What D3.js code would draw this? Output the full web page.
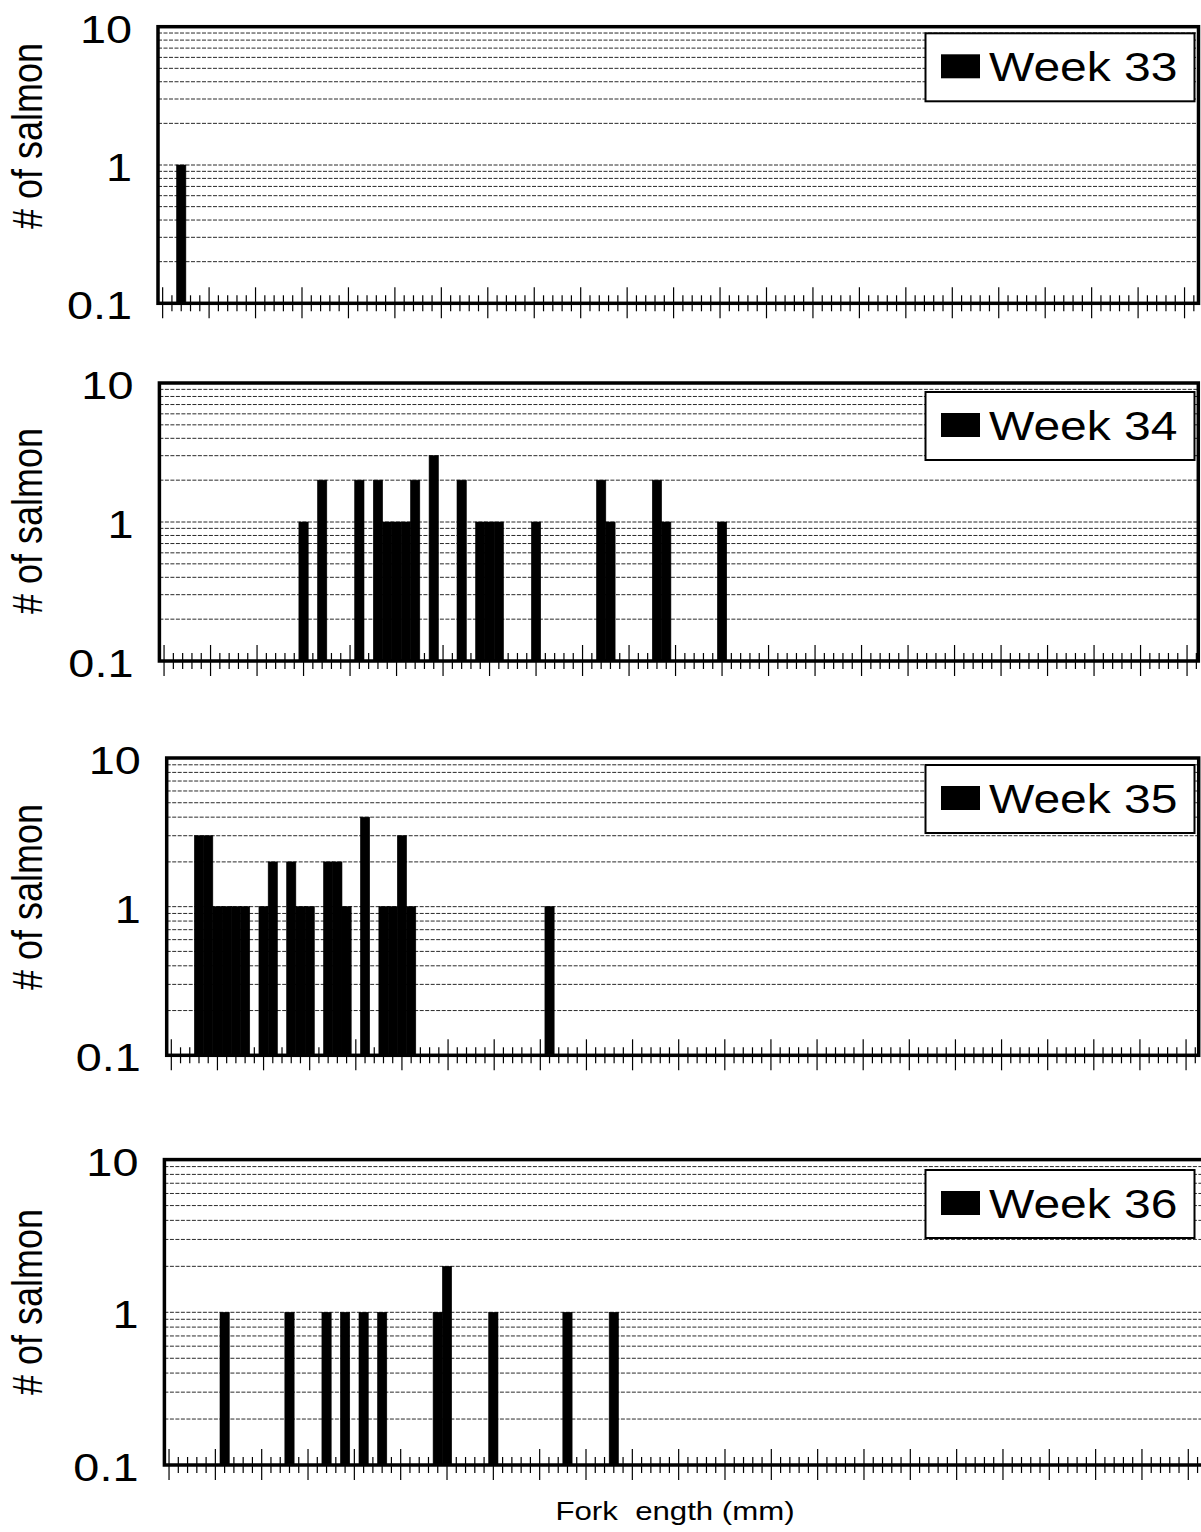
<!DOCTYPE html>
<html>
<head>
<meta charset="utf-8">
<script src="https://cdn.jsdelivr.net/npm/d3@7"></script>
<style>
  body { margin: 0; background: #fff; overflow: hidden; }
  svg { display: block; font-family: "Liberation Sans", Arial, sans-serif; }
</style>
</head>
<body>
<svg width="1201" height="1532"></svg>
<script>
// fork length bins (the axis shows ticks only, no labels)
const lengthBins = d3.range(112);

const weekNames = ["Week 33", "Week 34", "Week 35", "Week 36"];

// [bin index, number of salmon]
const week33 = [[2, 1]];
const week34 = [[15, 1], [17, 2], [21, 2], [23, 2], [24, 1], [25, 1], [26, 1], [27, 2],
                [29, 3], [32, 2], [34, 1], [35, 1], [36, 1], [40, 1], [47, 2], [48, 1],
                [53, 2], [54, 1], [60, 1]];
const week35 = [[3, 3], [4, 3], [5, 1], [6, 1], [7, 1], [8, 1], [10, 1], [11, 2],
                [13, 2], [14, 1], [15, 1], [17, 2], [18, 2], [19, 1], [21, 4], [23, 1],
                [24, 1], [25, 3], [26, 1], [41, 1]];
const week36 = [[6, 1], [13, 1], [17, 1], [19, 1], [21, 1], [23, 1], [29, 1], [30, 2],
                [35, 1], [43, 1], [48, 1]];

const yTickValues = [0.1, 1, 10];
const yTitle = "# of salmon";
const xTitle = "Fork  ength (mm)";

const FONT = '"Liberation Sans", Arial, sans-serif';
// the original picture is stretched sideways, text too
const stretch = 1.2;

// frame of each panel
const frames = [
  { left: 158,   bandW: 9.29,  right: 1198.5, top: 26.7, bottom: 303.3, legendY: 33.3, titleY: 136 },
  { left: 159.4, bandW: 9.3,   right: 1198.3, top: 383,  bottom: 661,   legendY: 392,  titleY: 521 },
  { left: 166.7, bandW: 9.225, right: 1198.7, top: 758,  bottom: 1055.3, legendY: 765, titleY: 897 },
  { left: 164.4, bandW: 9.266, right: 1203,   top: 1159.6, bottom: 1465, legendY: 1170, titleY: 1302 }
];

const svg = d3.select("svg");

function drawPanel(counts, name, f) {
  const g = svg.append("g");

  const x = d3.scaleBand()
      .domain(lengthBins)
      .range([f.left, f.left + lengthBins.length * f.bandW])
      .padding(0);
  const y = d3.scaleLog()
      .domain([0.1, 10])
      .range([f.bottom, f.top]);

  // dashed grid at every log step
  const gridVals = [];
  [0.1, 1].forEach(dec => d3.range(2, 10).forEach(k => gridVals.push(dec * k)));
  gridVals.push(1);
  g.selectAll(".grid")
    .data(gridVals)
    .enter()
    .append("line")
    .attr("x1", f.left)
    .attr("x2", f.right)
    .attr("y1", d => y(d))
    .attr("y2", d => y(d))
    .attr("stroke", "#2a2a2a")
    .attr("stroke-width", 1)
    .attr("stroke-dasharray", "4,1.5");

  // bars
  g.selectAll(".bar")
    .data(counts)
    .enter()
    .append("rect")
    .attr("x", d => x(d[0]))
    .attr("width", x.bandwidth())
    .attr("y", d => y(d[1]))
    .attr("height", d => f.bottom - y(d[1]))
    .attr("fill", "#000")
    .attr("stroke", "#000")
    .attr("stroke-width", 0.6);

  // x ticks, crossing the axis line
  const ax = g.append("g")
    .attr("transform", `translate(0, ${f.bottom})`)
    .call(d3.axisBottom(x).tickFormat("").tickSizeOuter(0));
  ax.select(".domain").remove();
  ax.selectAll(".tick")
    .filter(d => x(d) + x.bandwidth() / 2 > f.right)
    .remove();
  ax.selectAll(".tick line")
    .attr("stroke", "#000")
    .attr("stroke-width", 1.2)
    .attr("y1", d => d % 5 === 0 ? -16 : -8)
    .attr("y2", d => d % 5 === 0 ? 15 : 8);

  // y labels
  const ay = g.append("g")
    .attr("transform", `translate(${f.left}, 0)`)
    .call(d3.axisLeft(y).tickValues(yTickValues).tickSize(0)
          .tickFormat(d => d < 1 ? "0.1" : String(d)));
  ay.attr("font-family", FONT);
  ay.select(".domain").remove();
  ay.selectAll(".tick text")
    .attr("font-size", 39)
    .attr("fill", "#000")
    .attr("x", -26 / stretch)
    .attr("dy", "0.40em")
    .attr("transform", `scale(${stretch},1)`);

  // frame
  g.append("rect")
    .attr("x", f.left)
    .attr("y", f.top)
    .attr("width", f.right - f.left)
    .attr("height", f.bottom - f.top)
    .attr("fill", "none")
    .attr("stroke", "#000")
    .attr("stroke-width", 3.5);

  // y title
  g.append("text")
    .attr("transform", `translate(27, ${f.titleY}) rotate(-90) scale(1,${stretch})`)
    .attr("text-anchor", "middle")
    .attr("dominant-baseline", "central")
    .attr("font-size", 36)
    .text(yTitle);

  // legend
  const lg = g.append("g").attr("transform", `translate(925.5, ${f.legendY})`);
  lg.append("rect")
    .attr("width", 269)
    .attr("height", 68)
    .attr("fill", "#fff")
    .attr("stroke", "#000")
    .attr("stroke-width", 2);
  lg.append("rect")
    .attr("x", 15.5)
    .attr("y", 21)
    .attr("width", 39)
    .attr("height", 24)
    .attr("fill", "#000");
  lg.append("text")
    .attr("transform", `translate(252, 48) scale(${stretch},1)`)
    .attr("text-anchor", "end")
    .attr("font-size", 40)
    .text(name);
}

drawPanel(week33, weekNames[0], frames[0]);
drawPanel(week34, weekNames[1], frames[1]);
drawPanel(week35, weekNames[2], frames[2]);
drawPanel(week36, weekNames[3], frames[3]);

svg.append("text")
  .attr("transform", `translate(675, 1520) scale(${stretch},1)`)
  .attr("text-anchor", "middle")
  .attr("font-size", 26)
  .style("white-space", "pre")
  .text(xTitle);
</script>
</body>
</html>
